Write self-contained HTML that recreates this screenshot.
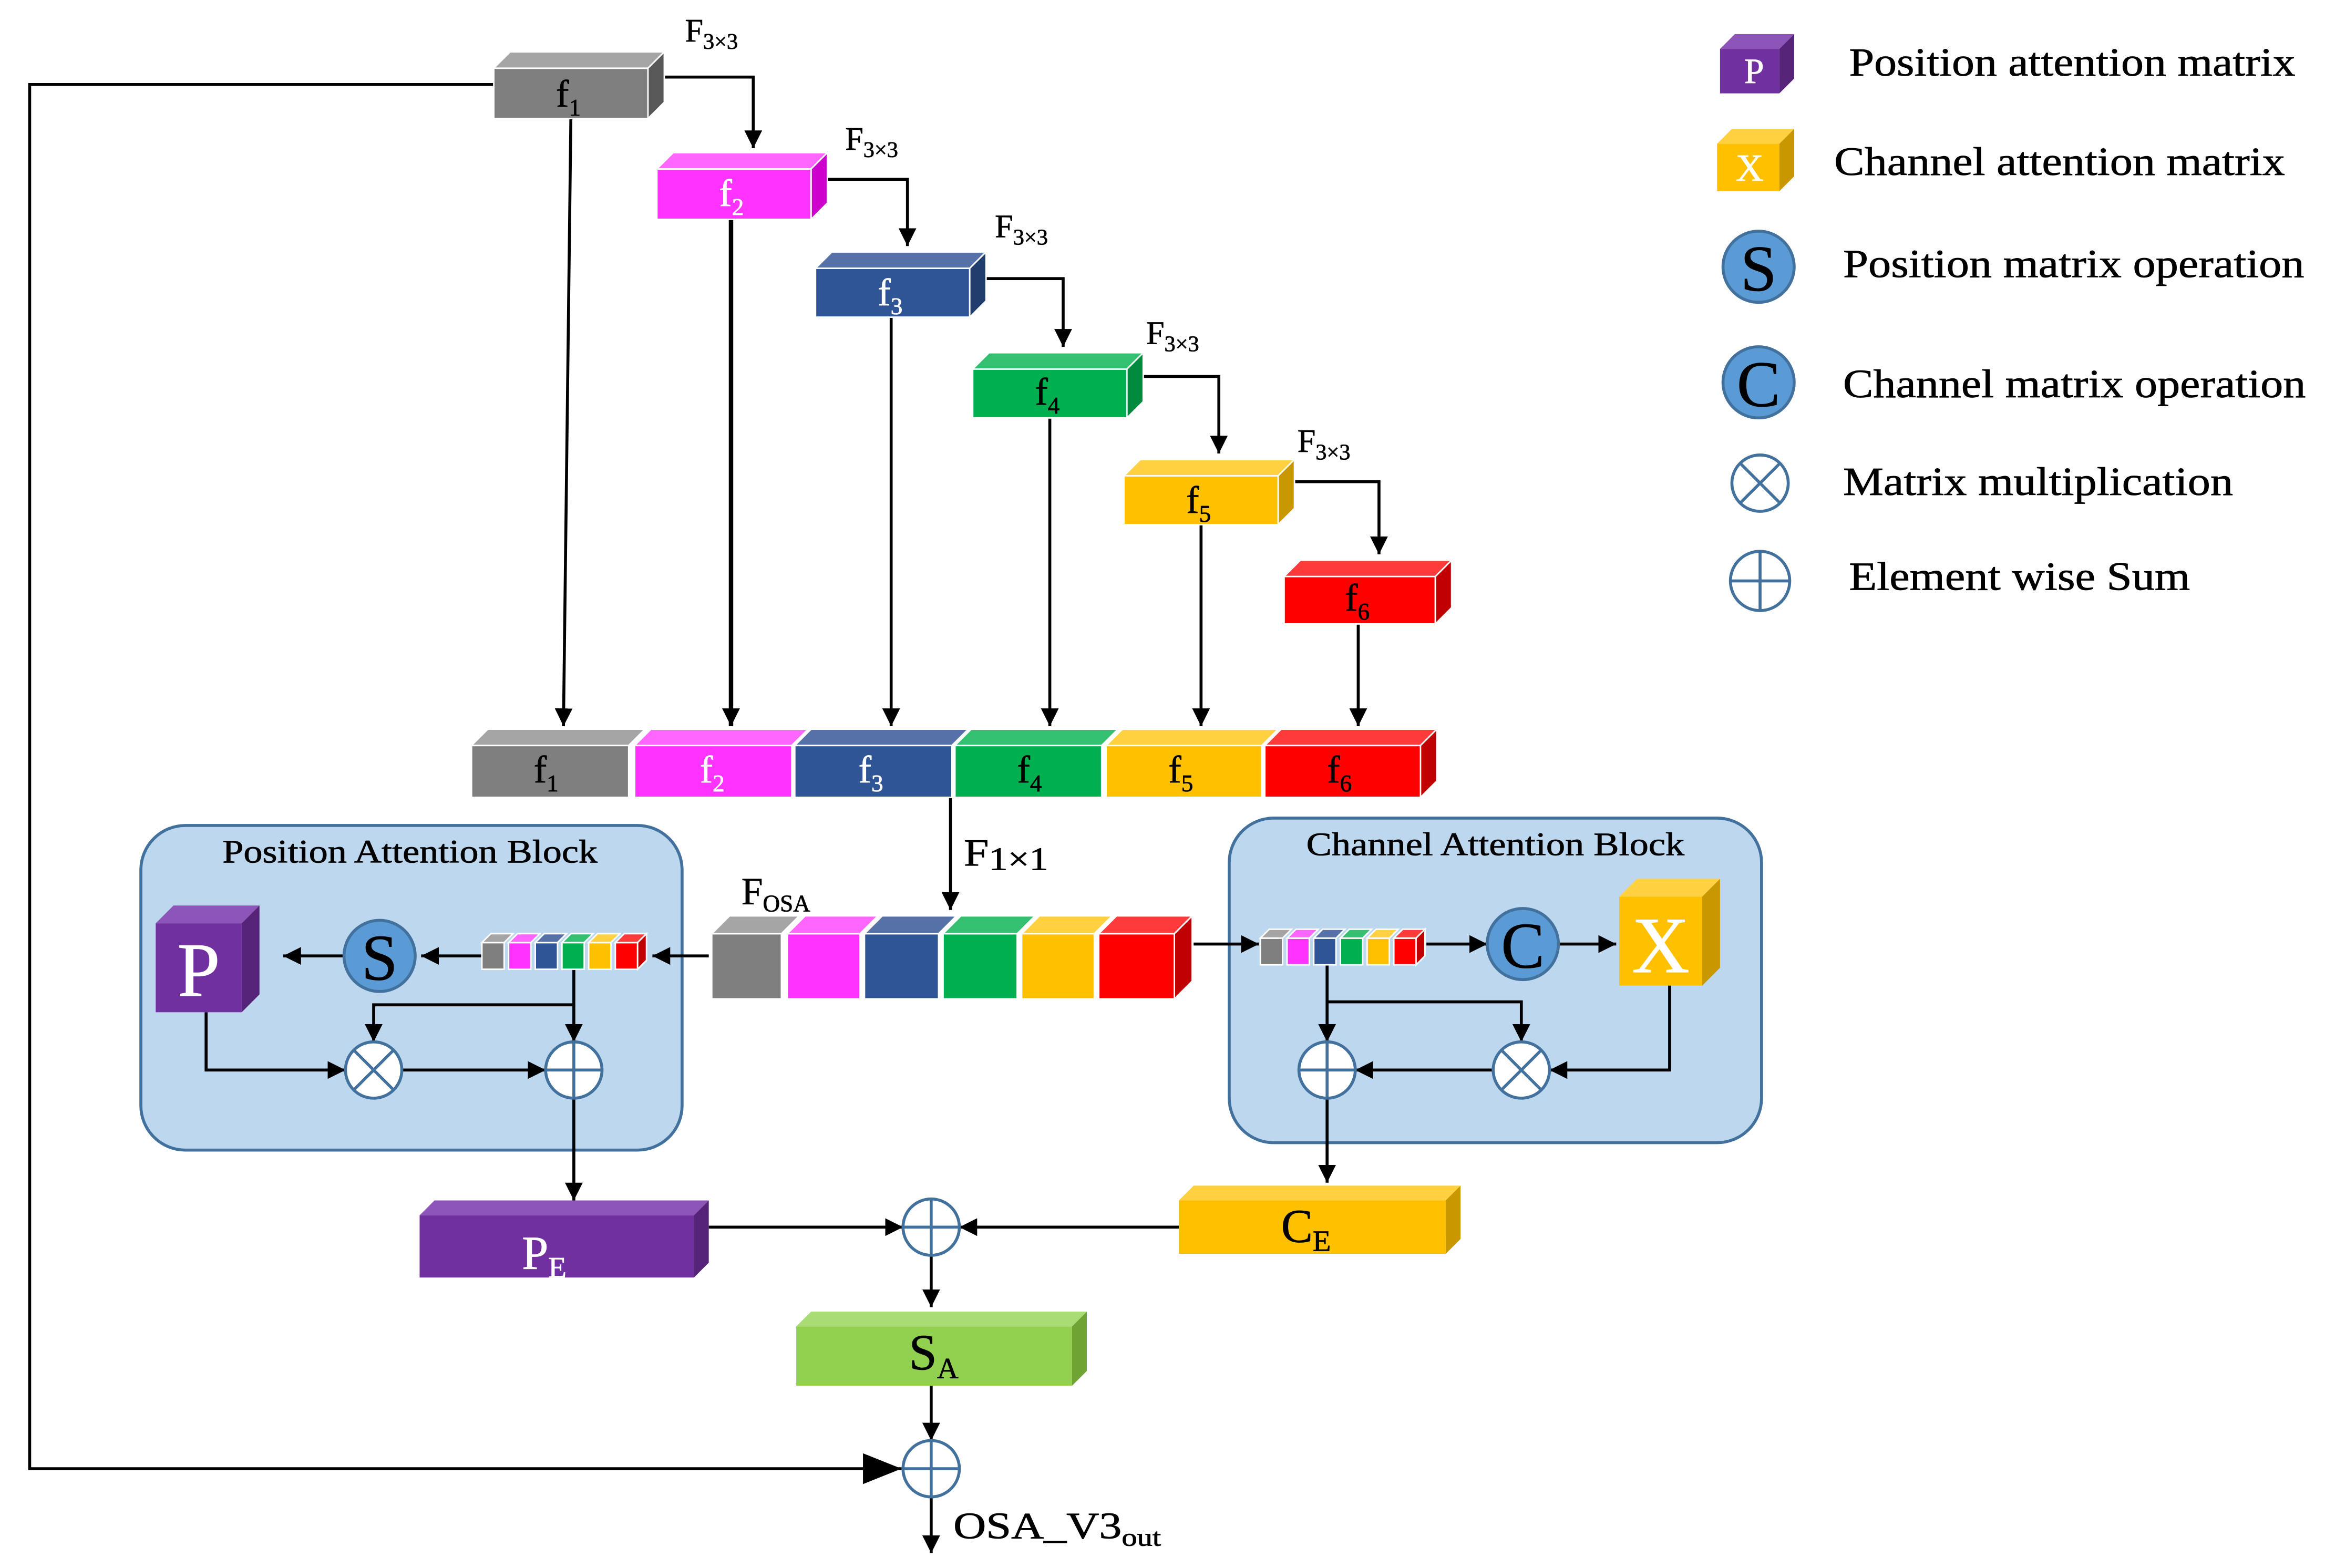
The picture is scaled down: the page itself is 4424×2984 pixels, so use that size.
<!DOCTYPE html>
<html><head><meta charset="utf-8"><style>
html,body{margin:0;padding:0;background:#fff}
svg{display:block}
text{font-family:"Liberation Serif",serif;fill:#000;stroke:#000;stroke-width:0.3}
.w{fill:#fff;stroke:#fff}
</style></head><body>
<svg width="4424" height="2984" viewBox="0 0 1568 1058" preserveAspectRatio="none" xmlns="http://www.w3.org/2000/svg">
<defs>
<marker id="b" viewBox="0 0 10 10" refX="10" refY="5" markerWidth="12" markerHeight="12" orient="auto" markerUnits="userSpaceOnUse"><path d="M0,0L10,5L0,10z" fill="#000"/></marker>
<marker id="c" viewBox="0 0 10 10" refX="10" refY="5" markerWidth="26" markerHeight="26" orient="auto" markerUnits="userSpaceOnUse"><path d="M0,1L10,5L0,9z" fill="#000"/></marker>
</defs>
<g stroke="#000" stroke-width="2" fill="none" marker-end="url(#b)">
<path d="M333,57H20V991H608" marker-end="url(#c)"/>
<path d="M448,52H508V100"/>
<path d="M558,121H612V166"/>
<path d="M665,188H717V234"/>
<path d="M771,254H822V306"/>
<path d="M873,325H930V374"/>
<path d="M385,80L380,490"/>
<path d="M493,148V490" stroke-width="3"/>
<path d="M601,214V490"/>
<path d="M708,282V490"/>
<path d="M810,354V490"/>
<path d="M916,421V490"/>
<path d="M641,538V614"/>
<path d="M478,828H609"/>
<path d="M795,828H647"/>
<path d="M628,847V882"/>
<path d="M628,935V972"/>
<path d="M628,1010V1048"/>
</g>

<rect x="95" y="557" width="365" height="219" rx="30" fill="#bdd7ee" stroke="#41719c" stroke-width="2"/>
<rect x="829" y="552" width="359" height="219" rx="30" fill="#bdd7ee" stroke="#41719c" stroke-width="2"/>
<text x="150" y="582" font-size="22" textLength="253" lengthAdjust="spacingAndGlyphs">Position Attention Block</text>
<text x="881" y="577" font-size="22" textLength="255" lengthAdjust="spacingAndGlyphs">Channel Attention Block</text>

<g stroke="#000" stroke-width="2" fill="none" marker-end="url(#b)">
<path d="M478,645H440"/><path d="M325,645H284"/><path d="M232,645H191"/>
<path d="M387,654V703"/><path d="M387,678H252V703"/><path d="M139,683V722H233"/><path d="M271,722H368"/><path d="M387,741V810"/>
<path d="M805,637H849"/><path d="M962,637H1003"/><path d="M1051,637H1090"/>
<path d="M895,651V703"/><path d="M895,676H1026V703"/><path d="M1126,665V722H1045"/><path d="M1007,722H914"/><path d="M895,741V798"/>
</g>

<g stroke="#fff" stroke-width="1">
<rect x="333" y="46" width="104" height="34" fill="#7f7f7f"/><polygon points="333,46 344,35 448,35 437,46" fill="#a5a5a5"/><polygon points="437,46 448,35 448,69 437,80" fill="#595959"/>
<rect x="443" y="114" width="104" height="34" fill="#ff33ff"/><polygon points="443,114 454,103 558,103 547,114" fill="#ff66ff"/><polygon points="547,114 558,103 558,137 547,148" fill="#cc00cc"/>
<rect x="550" y="181" width="104" height="33" fill="#2f5597"/><polygon points="550,181 561,170 665,170 654,181" fill="#5670a8"/><polygon points="654,181 665,170 665,203 654,214" fill="#203d6e"/>
<rect x="656" y="249" width="104" height="33" fill="#00b050"/><polygon points="656,249 667,238 771,238 760,249" fill="#33c070"/><polygon points="760,249 771,238 771,271 760,282" fill="#008a3e"/>
<rect x="758" y="321" width="104" height="33" fill="#ffc000"/><polygon points="758,321 769,310 873,310 862,321" fill="#ffd040"/><polygon points="862,321 873,310 873,343 862,354" fill="#c99700"/>
<rect x="866" y="389" width="102" height="32" fill="#ff0000"/><polygon points="866,389 877,378 979,378 968,389" fill="#ff3a3a"/><polygon points="968,389 979,378 979,410 968,421" fill="#c00000"/>

<rect x="318" y="503" width="106" height="35" fill="#7f7f7f"/><polygon points="318,503 329,492 435,492 424,503" fill="#a5a5a5"/>
<rect x="428" y="503" width="106" height="35" fill="#ff33ff"/><polygon points="428,503 439,492 545,492 534,503" fill="#ff66ff"/>
<rect x="536" y="503" width="106" height="35" fill="#2f5597"/><polygon points="536,503 547,492 653,492 642,503" fill="#5670a8"/>
<rect x="644" y="503" width="99" height="35" fill="#00b050"/><polygon points="644,503 655,492 754,492 743,503" fill="#33c070"/>
<rect x="746" y="503" width="105" height="35" fill="#ffc000"/><polygon points="746,503 757,492 862,492 851,503" fill="#ffd040"/>
<rect x="853" y="503" width="105" height="35" fill="#ff0000"/><polygon points="853,503 864,492 969,492 958,503" fill="#ff3a3a"/><polygon points="958,503 969,492 969,527 958,538" fill="#c00000"/>

<rect x="480" y="630" width="47" height="44" fill="#7f7f7f"/><polygon points="480,630 492,618 539,618 527,630" fill="#a5a5a5"/>
<rect x="531" y="630" width="49" height="44" fill="#ff33ff"/><polygon points="531,630 543,618 592,618 580,630" fill="#ff66ff"/>
<rect x="583" y="630" width="50" height="44" fill="#2f5597"/><polygon points="583,630 595,618 645,618 633,630" fill="#5670a8"/>
<rect x="636" y="630" width="50" height="44" fill="#00b050"/><polygon points="636,630 648,618 698,618 686,630" fill="#33c070"/>
<rect x="689" y="630" width="49" height="44" fill="#ffc000"/><polygon points="689,630 701,618 750,618 738,630" fill="#ffd040"/>
<rect x="741" y="630" width="51" height="44" fill="#ff0000"/><polygon points="741,630 753,618 804,618 792,630" fill="#ff3a3a"/><polygon points="792,630 804,618 804,662 792,674" fill="#c00000"/>

<rect x="325" y="636" width="15" height="18" fill="#7f7f7f"/><polygon points="325,636 331,630 346,630 340,636" fill="#a5a5a5"/>
<rect x="343" y="636" width="15" height="18" fill="#ff33ff"/><polygon points="343,636 349,630 364,630 358,636" fill="#ff66ff"/>
<rect x="361" y="636" width="15" height="18" fill="#2f5597"/><polygon points="361,636 367,630 382,630 376,636" fill="#5670a8"/>
<rect x="379" y="636" width="15" height="18" fill="#00b050"/><polygon points="379,636 385,630 400,630 394,636" fill="#33c070"/>
<rect x="397" y="636" width="15" height="18" fill="#ffc000"/><polygon points="397,636 403,630 418,630 412,636" fill="#ffd040"/>
<rect x="415" y="636" width="15" height="18" fill="#ff0000"/><polygon points="415,636 421,630 436,630 430,636" fill="#ff3a3a"/><polygon points="430,636 436,630 436,648 430,654" fill="#c00000"/>
<rect x="850" y="633" width="15" height="18" fill="#7f7f7f"/><polygon points="850,633 856,627 871,627 865,633" fill="#a5a5a5"/>
<rect x="868" y="633" width="15" height="18" fill="#ff33ff"/><polygon points="868,633 874,627 889,627 883,633" fill="#ff66ff"/>
<rect x="886" y="633" width="15" height="18" fill="#2f5597"/><polygon points="886,633 892,627 907,627 901,633" fill="#5670a8"/>
<rect x="904" y="633" width="15" height="18" fill="#00b050"/><polygon points="904,633 910,627 925,627 919,633" fill="#33c070"/>
<rect x="922" y="633" width="15" height="18" fill="#ffc000"/><polygon points="922,633 928,627 943,627 937,633" fill="#ffd040"/>
<rect x="940" y="633" width="15" height="18" fill="#ff0000"/><polygon points="940,633 946,627 961,627 955,633" fill="#ff3a3a"/><polygon points="955,633 961,627 961,645 955,651" fill="#c00000"/>
</g>

<rect x="105" y="623" width="58" height="60" fill="#7030a0"/><polygon points="105,623 117,611 175,611 163,623" fill="#8e55b8"/><polygon points="163,623 175,611 175,671 163,683" fill="#552479"/>
<text x="134" y="672" font-size="52" text-anchor="middle" class="w">P</text>
<rect x="1092" y="605" width="56" height="60" fill="#ffc000"/><polygon points="1092,605 1104,593 1160,593 1148,605" fill="#ffd040"/><polygon points="1148,605 1160,593 1160,653 1148,665" fill="#c99700"/>
<text x="1120" y="656" font-size="54" text-anchor="middle" class="w">X</text>

<rect x="283" y="820" width="185" height="42" fill="#7030a0"/><polygon points="283,820 293,810 478,810 468,820" fill="#8e55b8"/><polygon points="468,820 478,810 478,852 468,862" fill="#552479"/>
<rect x="795" y="810" width="180" height="36" fill="#ffc000"/><polygon points="795,810 805,800 985,800 975,810" fill="#ffd040"/><polygon points="975,810 985,800 985,836 975,846" fill="#c99700"/>
<rect x="537" y="895" width="186" height="40" fill="#92d050"/><polygon points="537,895 547,885 733,885 723,895" fill="#a9dc74"/><polygon points="723,895 733,885 733,925 723,935" fill="#6fa435"/>
<text x="352" y="856" font-size="32" class="w">P<tspan font-size="20" dy="6">E</tspan></text>
<text x="864" y="838" font-size="32">C<tspan font-size="20" dy="6">E</tspan></text>
<text x="613" y="924" font-size="34">S<tspan font-size="20" dy="6">A</tspan></text>

<circle cx="256" cy="645" r="24" fill="#5b9bd5" stroke="#41719c" stroke-width="2"/>
<text x="256" y="661" font-size="44" text-anchor="middle">S</text>
<circle cx="1027" cy="637" r="24" fill="#5b9bd5" stroke="#41719c" stroke-width="2"/>
<text x="1027" y="653" font-size="44" text-anchor="middle">C</text>

<g fill="#fff" stroke="#41719c" stroke-width="2">
<circle cx="252" cy="722" r="19"/><path d="M239,709L265,735M265,709L239,735"/>
<circle cx="387" cy="722" r="19"/><path d="M368,722H406M387,703V741"/>
<circle cx="895" cy="722" r="19"/><path d="M876,722H914M895,703V741"/>
<circle cx="1026" cy="722" r="19"/><path d="M1013,709L1039,735M1039,709L1013,735"/>
<circle cx="628" cy="828" r="19"/><path d="M609,828H647M628,809V847"/>
<circle cx="628" cy="991" r="19"/><path d="M609,991H647M628,972V1010"/>
</g>

<text x="375" y="72" font-size="26">f<tspan font-size="16" dy="6">1</tspan></text>
<text x="485" y="139" font-size="26" class="w">f<tspan font-size="16" dy="6">2</tspan></text>
<text x="592" y="206" font-size="26" class="w">f<tspan font-size="16" dy="6">3</tspan></text>
<text x="698" y="273" font-size="26">f<tspan font-size="16" dy="6">4</tspan></text>
<text x="800" y="346" font-size="26">f<tspan font-size="16" dy="6">5</tspan></text>
<text x="907" y="412" font-size="26">f<tspan font-size="16" dy="6">6</tspan></text>
<text x="360" y="528" font-size="26">f<tspan font-size="16" dy="6">1</tspan></text>
<text x="472" y="528" font-size="26" class="w">f<tspan font-size="16" dy="6">2</tspan></text>
<text x="579" y="528" font-size="26" class="w">f<tspan font-size="16" dy="6">3</tspan></text>
<text x="686" y="528" font-size="26">f<tspan font-size="16" dy="6">4</tspan></text>
<text x="788" y="528" font-size="26">f<tspan font-size="16" dy="6">5</tspan></text>
<text x="895" y="528" font-size="26">f<tspan font-size="16" dy="6">6</tspan></text>

<text x="462" y="28" font-size="22">F<tspan font-size="15" dy="5">3×3</tspan></text>
<text x="570" y="101" font-size="22">F<tspan font-size="15" dy="5">3×3</tspan></text>
<text x="671" y="160" font-size="22">F<tspan font-size="15" dy="5">3×3</tspan></text>
<text x="773" y="232" font-size="22">F<tspan font-size="15" dy="5">3×3</tspan></text>
<text x="875" y="305" font-size="22">F<tspan font-size="15" dy="5">3×3</tspan></text>
<text x="650" y="584" font-size="26" textLength="57" lengthAdjust="spacingAndGlyphs">F<tspan font-size="22" dy="3">1×1</tspan></text>
<text x="500" y="610" font-size="26">F<tspan font-size="16" dy="5">OSA</tspan></text>
<text x="643" y="1038" font-size="25" textLength="140" lengthAdjust="spacingAndGlyphs">OSA_V3<tspan font-size="17" dy="5">out</tspan></text>

<rect x="1160" y="33" width="40" height="30" fill="#7030a0"/><polygon points="1160,33 1170,23 1210,23 1200,33" fill="#8e55b8"/><polygon points="1200,33 1210,23 1210,53 1200,63" fill="#552479"/>
<text x="1183" y="56" font-size="24" text-anchor="middle" class="w">P</text>
<rect x="1158" y="97" width="42" height="32" fill="#ffc000"/><polygon points="1158,97 1168,87 1210,87 1200,97" fill="#ffd040"/><polygon points="1200,97 1210,87 1210,119 1200,129" fill="#c99700"/>
<text x="1180" y="122" font-size="26" text-anchor="middle" class="w">X</text>
<circle cx="1186" cy="180" r="24" fill="#5b9bd5" stroke="#41719c" stroke-width="2"/>
<text x="1186" y="196" font-size="44" text-anchor="middle">S</text>
<circle cx="1186" cy="258" r="24" fill="#5b9bd5" stroke="#41719c" stroke-width="2"/>
<text x="1186" y="274" font-size="44" text-anchor="middle">C</text>
<g fill="#fff" stroke="#41719c" stroke-width="2">
<circle cx="1187" cy="326" r="19"/><path d="M1174,313L1200,339M1200,313L1174,339"/>
<circle cx="1187" cy="392" r="20"/><path d="M1167,392H1207M1187,372V412"/>
</g>
<text x="1247" y="51" font-size="27" textLength="301" lengthAdjust="spacingAndGlyphs">Position attention matrix</text>
<text x="1237" y="118" font-size="27" textLength="304" lengthAdjust="spacingAndGlyphs">Channel attention matrix</text>
<text x="1243" y="187" font-size="27" textLength="311" lengthAdjust="spacingAndGlyphs">Position matrix operation</text>
<text x="1243" y="268" font-size="27" textLength="312" lengthAdjust="spacingAndGlyphs">Channel matrix operation</text>
<text x="1243" y="334" font-size="27" textLength="263" lengthAdjust="spacingAndGlyphs">Matrix multiplication</text>
<text x="1247" y="398" font-size="27" textLength="230" lengthAdjust="spacingAndGlyphs">Element wise Sum</text>
</svg>
</body></html>
